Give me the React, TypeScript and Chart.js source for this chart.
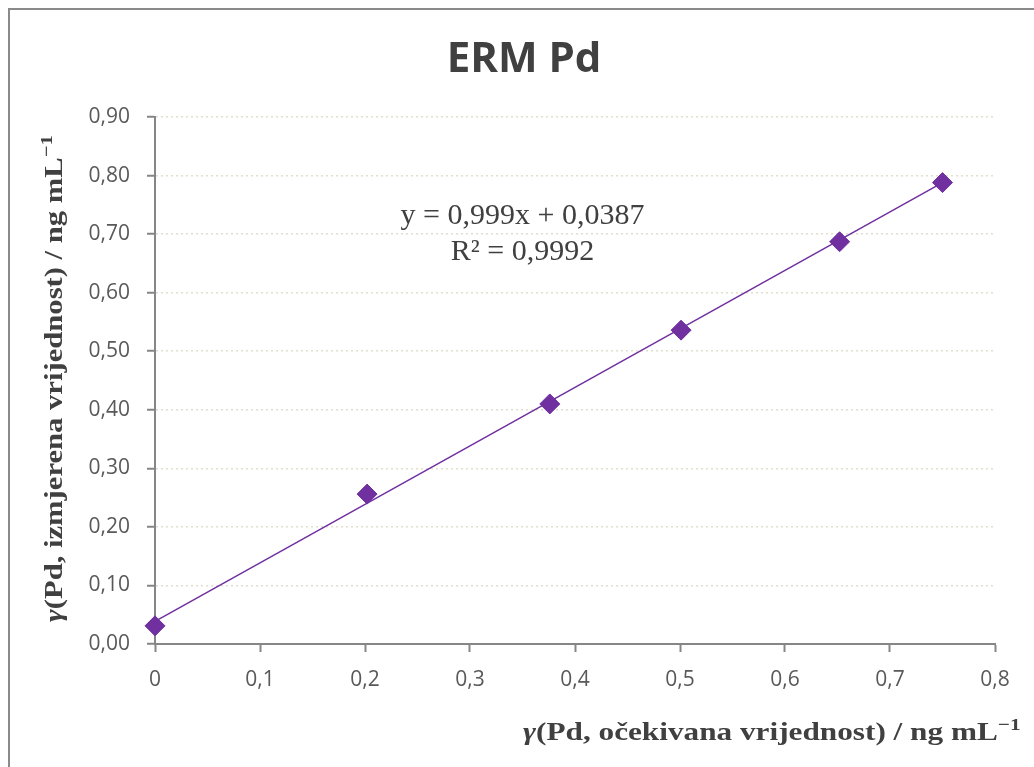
import React, { useEffect, useRef } from 'react';
import { Chart, registerables } from 'chart.js';

Chart.register(...registerables);

// ---- data ----
const chartTitle = 'ERM Pd';
const expectedValues = [0, 0.202, 0.376, 0.501, 0.652, 0.75];
const measuredValues = [0.031, 0.256, 0.41, 0.536, 0.687, 0.788];
const trendX = [0, 0.75];
const trendY = [0.0387, 0.7880];
const equationLines = ['y = 0,999x + 0,0387', 'R² = 0,9992'];
const equationAnchor = { x: 0.35, y: [0.731, 0.669] };
const xMin = 0, xMax = 0.8, xStep = 0.1;
const yMin = 0, yMax = 0.9, yStep = 0.1;

type Seg = { t: string; italic?: boolean; sup?: boolean };
const xTitleSegs: Seg[] = [
  { t: 'γ', italic: true },
  { t: '(Pd, očekivana vrijednost) / ng mL' },
  { t: '−1', sup: true },
];
const yTitleSegs: Seg[] = [
  { t: 'γ', italic: true },
  { t: '(Pd, izmjerena vrijednost) / ng mL' },
  { t: '−1', sup: true },
];

const PURPLE = '#7030A0';
const AXIS = '#868686';
const TEXT = '#404040';
const TICK_TEXT = '#595959';
const SERIF = '"Liberation Serif", "DejaVu Serif", serif';
const SANS = '"Open Sans", "Liberation Sans", sans-serif';
const TITLE_SIZE = 25;
const TITLE_STRETCH = 1.25;

function drawRich(
  ctx: CanvasRenderingContext2D,
  segs: Seg[],
  x: number,
  y: number,
  size: number,
  stretch: number,
  align: 'left' | 'center'
) {
  const fontFor = (s: Seg) =>
    `${s.italic ? 'italic ' : ''}bold ${s.sup ? Math.round(size * 0.68) : size}px ${SERIF}`;
  const widths = segs.map((s) => {
    ctx.font = fontFor(s);
    return ctx.measureText(s.t).width;
  });
  const total = widths.reduce((a, b) => a + b, 0);
  ctx.save();
  ctx.translate(x, y);
  ctx.scale(stretch, 1);
  let cx = align === 'center' ? -total / 2 : 0;
  ctx.textAlign = 'left';
  ctx.textBaseline = 'alphabetic';
  segs.forEach((s, i) => {
    ctx.font = fontFor(s);
    ctx.fillText(s.t, cx, s.sup ? -size * 0.42 : 0);
    cx += widths[i];
  });
  ctx.restore();
}

const decorPlugin = {
  id: 'decor',
  afterDraw(chart: any) {
    const { ctx, chartArea, scales } = chart;
    ctx.save();
    ctx.fillStyle = TEXT;
    // title
    ctx.font = `bold 42px ${SANS}`;
    ctx.textAlign = 'center';
    ctx.textBaseline = 'alphabetic';
    ctx.fillText(chartTitle, (chartArea.left + chartArea.right) / 2 - 51, 64);
    // equation
    ctx.font = `30px ${SERIF}`;
    ctx.textBaseline = 'middle';
    equationLines.forEach((line, i) => {
      ctx.fillText(line, scales.x.getPixelForValue(equationAnchor.x), scales.y.getPixelForValue(equationAnchor.y[i]));
    });
    // x axis title
    drawRich(ctx, xTitleSegs, chartArea.left + 368, 732, TITLE_SIZE, TITLE_STRETCH, 'left');
    // y axis title
    ctx.translate(54, (chartArea.top + chartArea.bottom) / 2 - 2);
    ctx.rotate(-Math.PI / 2);
    drawRich(ctx, yTitleSegs, 0, 0, TITLE_SIZE, TITLE_STRETCH * 0.98, 'center');
    ctx.restore();
  },
};

export default function App() {
  const ref = useRef<HTMLCanvasElement | null>(null);

  useEffect(() => {
    if (!ref.current) return;
    const chart = new Chart(ref.current, {
      type: 'scatter',
      data: {
        datasets: [
          {
            label: 'ERM Pd',
            data: expectedValues.map((x, i) => ({ x, y: measuredValues[i] })),
            pointStyle: 'rectRot',
            pointRadius: 10,
            backgroundColor: PURPLE,
            borderColor: PURPLE,
            borderWidth: 1,
            showLine: false,
            clip: false,
            order: 0,
          },
          {
            label: 'trend',
            data: trendX.map((x, i) => ({ x, y: trendY[i] })),
            showLine: true,
            pointRadius: 0,
            borderColor: PURPLE,
            borderWidth: 1.5,
            clip: false,
            order: 1,
          },
        ],
      },
      options: {
        animation: false,
        responsive: false,
        devicePixelRatio: 1,
        layout: { padding: { left: 0, right: 39, top: 109, bottom: 73 } },
        plugins: { legend: { display: false }, tooltip: { enabled: false }, title: { display: false } },
        scales: {
          x: {
            type: 'linear',
            min: xMin,
            max: xMax,
            ticks: {
              stepSize: xStep,
              padding: 15,
              color: TICK_TEXT,
              font: { family: SANS, size: 21 },
              callback: (v: any) => (Number(v) === 0 ? '0' : Number(v).toFixed(1).replace('.', ',')),
            },
            grid: { drawOnChartArea: false, drawTicks: true, tickLength: 8, tickColor: AXIS, tickWidth: 2 },
            border: { color: AXIS, width: 2 },
            afterFit: (s: any) => {
              s.height = 50;
            },
          },
          y: {
            type: 'linear',
            min: yMin,
            max: yMax,
            ticks: {
              stepSize: yStep,
              padding: 17,
              color: TICK_TEXT,
              font: { family: SANS, size: 21 },
              callback: (v: any) => Number(v).toFixed(2).replace('.', ','),
            },
            grid: {
              color: '#e0e0cc',
              lineWidth: 1.5,
              drawTicks: true,
              tickLength: 8,
              tickColor: AXIS,
              tickWidth: 2,
              tickBorderDash: [],
            },
            border: { color: AXIS, width: 2, dash: [2, 3] },
            afterFit: (s: any) => {
              s.width = 147;
            },
          },
        },
      },
      plugins: [decorPlugin],
    } as any);
    return () => chart.destroy();
  }, []);

  return (
    <div style={{ position: 'fixed', left: 8, top: 8, right: 0, bottom: 0, overflow: 'hidden', background: '#fff' }}>
      <canvas ref={ref} width={1026} height={759} style={{ position: 'absolute', left: 0, top: 0 }} />
      <div
        style={{
          position: 'absolute',
          left: 0,
          top: 0,
          width: 1100,
          height: 820,
          border: '2px solid #8a8a8a',
          boxSizing: 'border-box',
          pointerEvents: 'none',
        }}
      />
    </div>
  );
}
